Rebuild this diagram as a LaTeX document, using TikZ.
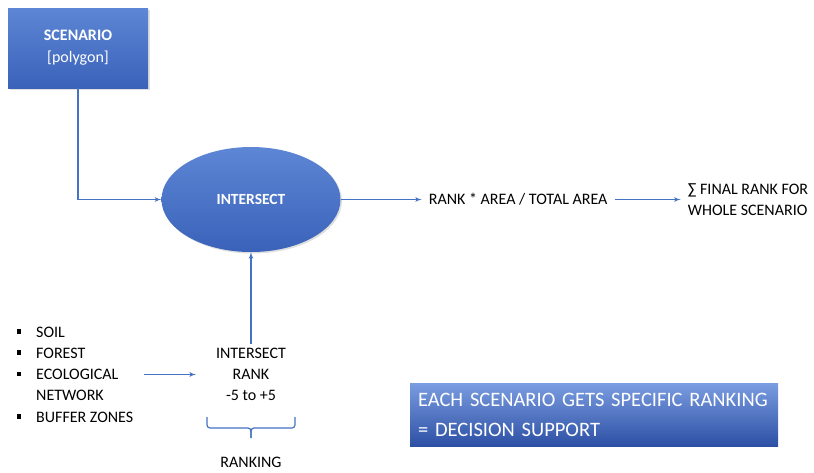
\documentclass[tikz,border=0pt]{standalone}
\usepackage{fontspec}
\setmainfont{Carlito}
\usetikzlibrary{positioning}
\usetikzlibrary{arrows}
\usetikzlibrary{shapes.geometric}
\usetikzlibrary{shadows}
\definecolor{lineblue}{RGB}{68,114,196}
\definecolor{boxtop}{RGB}{93,134,213}
\definecolor{boxbottom}{RGB}{58,98,185}
\definecolor{notetop}{RGB}{122,156,224}
\definecolor{notebottom}{RGB}{45,80,165}
\tikzstyle{block} = [rectangle, top color=boxtop, bottom color=boxbottom, text=white, align=center, drop shadow={opacity=0.25, shadow xshift=1.5pt, shadow yshift=-1.5pt}]
\tikzstyle{oval} = [ellipse, top color=boxtop, bottom color=boxbottom, text=white, inner sep=0pt, drop shadow={opacity=0.25, shadow xshift=1.5pt, shadow yshift=-1.5pt}]
\tikzstyle{notebox} = [rectangle, top color=notetop, bottom color=notebottom, text=white, align=left, font=\fontsize{20.5}{30}\selectfont]
\tikzstyle{txt} = [inner ysep=2pt, inner xsep=7pt, align=center, font=\fontsize{16}{21.3}\selectfont]
\tikzstyle{link} = [draw=lineblue, line width=1.2pt, ->]
\tikzstyle{brace} = [draw=lineblue, line width=1.2pt, rounded corners=3pt]
\newcommand{\sqbullet}{\makebox[19.5pt][l]{\rule[0.22em]{4.5pt}{4.5pt}}}

\begin{document}
\begin{tikzpicture}[>=latex', x=1pt, y=-1pt]
    \useasboundingbox (0,0) rectangle (814,472);

    % top row
    \node[block, minimum width=140pt, minimum height=80pt, font=\fontsize{16}{22}\selectfont] (scenario) at (78,48) {\textbf{SCENARIO}\\{[polygon]}};
    \node[oval, minimum width=179pt, minimum height=105pt, font=\fontsize{15.5}{20}\selectfont\bfseries] (intersect) at (251,199.5) {INTERSECT};
    \node[txt, right=81pt of intersect] (rankarea) {RANK * AREA / TOTAL AREA};
    \node[txt, align=left, right=66pt of rankarea] (final) {∑ FINAL RANK FOR\\WHOLE SCENARIO};

    % bottom row
    \node[txt, align=left, anchor=west, inner sep=0pt] (layers) at (16.5,374.5) {\sqbullet SOIL\\\sqbullet FOREST\\\sqbullet ECOLOGICAL\\\hspace*{19.5pt}NETWORK\\\sqbullet BUFFER ZONES};
    \node[txt] (rank) at (251,374.5) {INTERSECT\\RANK\\-5 to +5};
    \node[txt] (ranking) at (251,462) {RANKING};
    \node[notebox, text width=352pt, inner xsep=8pt, minimum height=63pt] (decision) at (594,414.5) {EACH SCENARIO GETS SPECIFIC RANKING\\= DECISION SUPPORT};

    \draw[link] (scenario.south) |- (intersect.west);
    \draw[link] (intersect) -- (rankarea);
    \draw[link] (rankarea) -- (final);
    \draw[link, shorten <=11pt, shorten >=13pt] (layers.east |- rank.west) -- (rank.west);
    \draw[link, shorten <=2pt] (rank.north) -- (intersect.south);

    % brace under the rank
    \coordinate (bl) at (207,417);
    \coordinate (br) at (295,417);
    \draw[brace] (bl) -- ++(0,11) -- ++(44,0) -- ++(0,10);
    \draw[brace] (br) -- ++(0,11) -- ++(-44,0) -- ++(0,10);
\end{tikzpicture}
\end{document}
